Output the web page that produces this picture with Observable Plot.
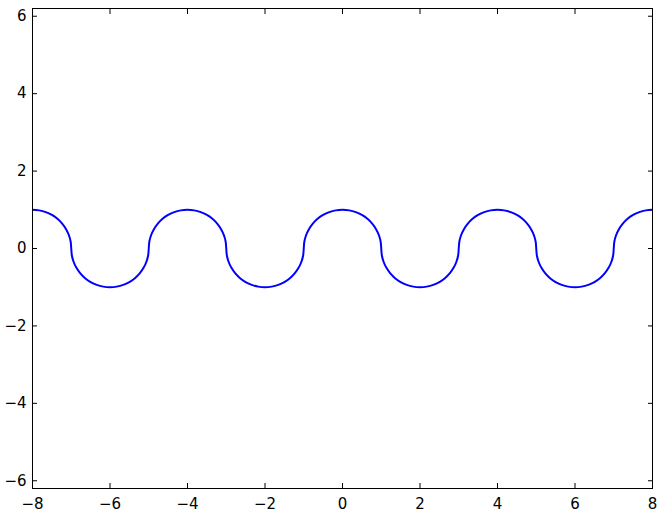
<!DOCTYPE html>
<html><head><meta charset="utf-8">
<script src="https://cdn.jsdelivr.net/npm/d3@7"></script>
<script src="https://cdn.jsdelivr.net/npm/@observablehq/plot@0.6"></script>
<style>body{margin:0;background:#fff}</style>
</head><body><div id="chart"></div>
<script>
// semicircle centres and direction (+1 = arc above axis, -1 = below)
const centers = [-8, -6, -4, -2, 0, 2, 4, 6, 8];
const signs   = [ 1, -1,  1, -1, 1, -1, 1, -1, 1];
// unit semicircle profile read at 10° steps
const profileX = [-1, -0.985, -0.940, -0.866, -0.766, -0.643, -0.5, -0.342, -0.174, 0,
                  0.174, 0.342, 0.5, 0.643, 0.766, 0.866, 0.940, 0.985, 1];
const profileY = [0, 0.174, 0.342, 0.5, 0.643, 0.766, 0.866, 0.940, 0.985, 1,
                  0.985, 0.940, 0.866, 0.766, 0.643, 0.5, 0.342, 0.174, 0];
const xTicks = [-8, -6, -4, -2, 0, 2, 4, 6, 8];
const yTicks = [-6, -4, -2, 0, 2, 4, 6];

const pts = [];
centers.forEach((c, i) => {
  profileX.forEach((dx, j) => {
    if (i > 0 && j === 0) return;
    pts.push({x: c + dx, y: signs[i] * profileY[j]});
  });
});
const fmt = d => d < 0 ? "\u2212" + Math.abs(d) : String(d);
const blank = () => "";

const chart = Plot.plot({
  width: 664, height: 517,
  marginLeft: 32, marginRight: 12, marginTop: 8, marginBottom: 29,
  style: {fontFamily: "DejaVu Sans", fontSize: "15px", color: "black", background: "white"},
  x: {domain: [-8, 8]},
  y: {domain: [-6.2, 6.2]},
  marks: [
    Plot.line(pts, {x: "x", y: "y", stroke: "#0000ff", strokeWidth: 2, curve: "catmull-rom", clip: true}),
    Plot.frame({stroke: "black", strokeWidth: 1}),
    Plot.axisX({ticks: xTicks, tickFormat: fmt, tickSize: 0, tickPadding: 10, anchor: "bottom", label: null, fontSize: 15}),
    Plot.axisX({ticks: xTicks, tickFormat: blank, tickSize: 5, dy: -5, anchor: "bottom", label: null}),
    Plot.axisX({ticks: xTicks, tickFormat: blank, tickSize: 5, dy: 5, anchor: "top", label: null}),
    Plot.axisY({ticks: yTicks, tickFormat: fmt, tickSize: 0, tickPadding: 6, anchor: "left", label: null, fontSize: 15}),
    Plot.axisY({ticks: yTicks, tickFormat: blank, tickSize: 5, dx: 5, anchor: "left", label: null}),
    Plot.axisY({ticks: yTicks, tickFormat: blank, tickSize: 5, dx: -5, anchor: "right", label: null})
  ]
});
d3.select(chart).selectAll("text").style("font-size", "15px").style("font-family", "'DejaVu Sans'").style("fill", "black");
document.getElementById("chart").appendChild(chart);
</script></body></html>
